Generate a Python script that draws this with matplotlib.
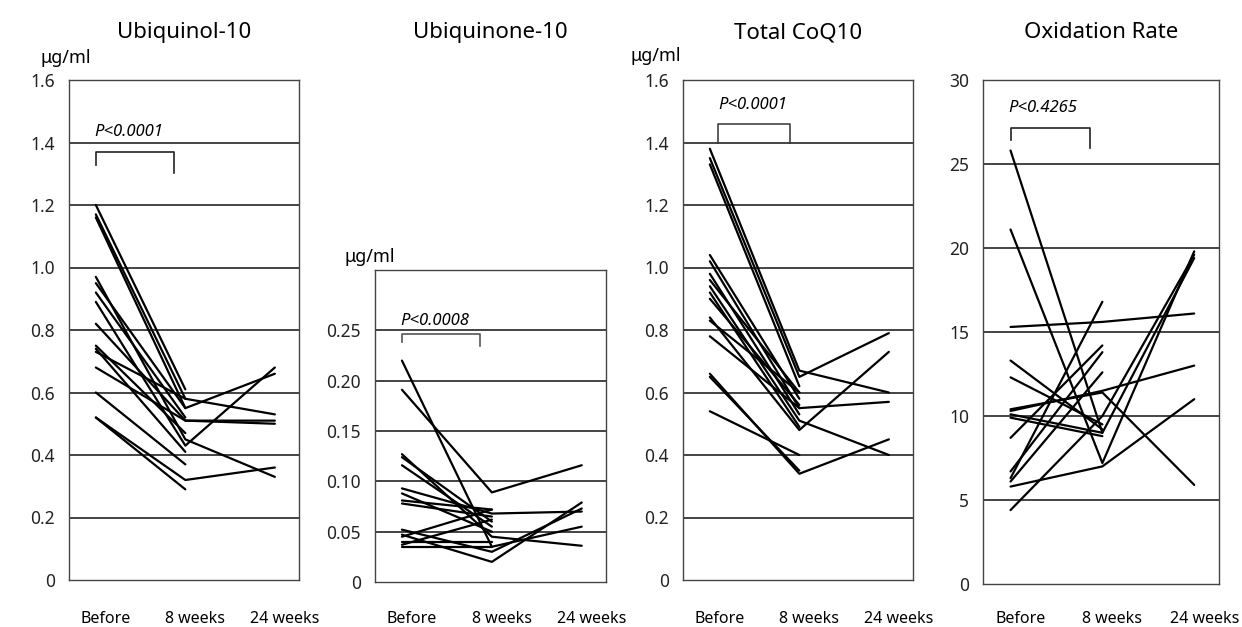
import matplotlib.pyplot as plt
import matplotlib.transforms as mtransforms
import numpy as np

plt.rcParams["font.family"] = ["Noto Sans", "DejaVu Sans"]

TIME_LABELS = ["Before", "8 weeks", "24 weeks"]

# Ubiquinol-10 (ug/ml): before, 8 weeks, 24 weeks (nan = not measured)
nan = np.nan
ubiquinol_before = [1.20, 1.17, 1.16, 0.97, 0.95, 0.92, 0.89, 0.82, 0.75, 0.74, 0.73, 0.68, 0.60, 0.52, 0.52]
ubiquinol_8w = [0.61, 0.58, 0.55, 0.45, 0.55, 0.52, 0.43, 0.51, 0.47, 0.41, 0.58, 0.51, 0.37, 0.32, 0.29]
ubiquinol_24w = [nan, 0.53, nan, 0.33, 0.66, nan, 0.68, 0.50, nan, nan, nan, 0.51, nan, 0.36, nan]

# Ubiquinone-10 (ug/ml)
ubiquinone_before = [0.220, 0.191, 0.127, 0.124, 0.116, 0.093, 0.088, 0.081, 0.078, 0.052, 0.047, 0.045, 0.040, 0.037, 0.035]
ubiquinone_8w = [0.035, 0.089, 0.045, 0.060, 0.055, 0.068, 0.050, 0.072, 0.065, 0.030, 0.020, 0.072, 0.040, 0.062, 0.035]
ubiquinone_24w = [0.055, 0.116, 0.036, nan, nan, 0.070, nan, nan, nan, 0.073, 0.079, nan, nan, nan, nan]

# Total CoQ10 (ug/ml)
total_before = [1.38, 1.35, 1.33, 1.04, 1.02, 0.98, 0.96, 0.94, 0.92, 0.90, 0.84, 0.83, 0.78, 0.66, 0.65, 0.54]
total_8w = [0.67, 0.65, 0.62, 0.58, 0.55, 0.53, 0.60, 0.51, 0.49, 0.56, 0.48, 0.60, 0.55, 0.34, 0.35, 0.40]
total_24w = [0.60, 0.79, nan, nan, 0.57, nan, nan, 0.40, nan, nan, 0.73, nan, nan, 0.45, nan, nan]

# Oxidation rate (%)
oxid_before = [25.8, 21.1, 15.3, 13.3, 12.3, 10.4, 10.3, 10.1, 9.9, 8.7, 6.7, 6.3, 6.1, 5.8, 4.4]
oxid_8w = [9.0, 7.2, 15.6, 9.2, 9.5, 11.4, 11.5, 9.0, 8.8, 14.2, 13.8, 16.8, 12.6, 7.0, 10.0]
oxid_24w = [19.4, 19.8, 16.1, nan, nan, 5.9, 13.0, nan, nan, nan, nan, nan, nan, 11.0, 19.6]

PANELS = [
    dict(title="Ubiquinol-10", data=(ubiquinol_before, ubiquinol_8w, ubiquinol_24w),
         ticks=[0, 0.2, 0.4, 0.6, 0.8, 1.0, 1.2, 1.4, 1.6],
         ticklabels=["0", "0.2", "0.4", "0.6", "0.8", "1.0", "1.2", "1.4", "1.6"],
         ylim=(0, 1.6), unit=(40, 58), p="P<0.0001",
         rect=(69, 80, 299, 580)),
    dict(title="Ubiquinone-10", data=(ubiquinone_before, ubiquinone_8w, ubiquinone_24w),
         ticks=[0, 0.05, 0.10, 0.15, 0.20, 0.25],
         ticklabels=["0", "0.05", "0.10", "0.15", "0.20", "0.25"],
         ylim=(0, 0.31), unit=(345, 257), p="P<0.0008",
         rect=(375, 270, 606, 582)),
    dict(title="Total CoQ10", data=(total_before, total_8w, total_24w),
         ticks=[0, 0.2, 0.4, 0.6, 0.8, 1.0, 1.2, 1.4, 1.6],
         ticklabels=["0", "0.2", "0.4", "0.6", "0.8", "1.0", "1.2", "1.4", "1.6"],
         ylim=(0, 1.6), unit=(631, 56), p="P<0.0001",
         rect=(683, 80, 913, 580)),
    dict(title="Oxidation Rate", data=(oxid_before, oxid_8w, oxid_24w),
         ticks=[0, 5, 10, 15, 20, 25, 30],
         ticklabels=["0", "5", "10", "15", "20", "25", "30"],
         ylim=(0, 30), unit=None, p="P<0.4265",
         rect=(983, 80, 1219, 584)),
]

W, H = 1242, 627
fig = plt.figure(figsize=(W / 100, H / 100), dpi=100)
shift = mtransforms.ScaledTranslation(10 / 100, 0, fig.dpi_scale_trans)

for i, pan in enumerate(PANELS):
    x0, y0, x1, y1 = pan["rect"]
    ax = fig.add_axes([x0 / W, 1 - y1 / H, (x1 - x0) / W, (y1 - y0) / H])
    before, w8, w24 = [np.array(a, dtype=float) for a in pan["data"]]
    for b, m, e in zip(before, w8, w24):
        ax.plot([0, 1, 2], [b, m, e], color="black", lw=1.6, solid_capstyle="round")

    ymin, ymax = pan["ylim"]
    ax.set_ylim(ymin, ymax)
    ax.set_xlim(-0.3, 2.27)
    ax.set_yticks(pan["ticks"])
    ax.set_yticklabels(pan["ticklabels"], fontsize=12.5, color="#222222")
    ax.tick_params(axis="y", length=0, pad=10)
    for t in pan["ticks"][1:]:
        ax.axhline(t, color="#111111", lw=1.1, zorder=0)
    ax.set_xticks([0, 1, 2])
    ax.set_xticklabels(TIME_LABELS, fontsize=11.5)
    ax.tick_params(axis="x", length=0, pad=(611 - y1) * 0.72)
    for lab in ax.get_xticklabels():
        lab.set_transform(lab.get_transform() + shift)
    for s in ax.spines.values():
        s.set_color("#444444")
        s.set_linewidth(1.0)

    ax.set_title(pan["title"], fontsize=16, pad=(y0 - 30) * 0.72 - 6)

    if pan["unit"]:
        ux, uy = pan["unit"]
        fig.text(ux / W, 1 - uy / H, "\u03bcg/ml", fontsize=13, va="center", ha="left")

    # significance bracket
    span = ymax - ymin
    if i == 2:
        top = 1.46
        ax.plot([0.09, 0.09, 0.9, 0.9], [1.4, top, top, 1.4], color="#333333", lw=1.1)
        ax.text(0.1, 1.52, pan["p"], fontsize=12, style="italic", va="center")
    else:
        frac = {0: 0.855, 1: 0.795, 3: 0.905}[i]
        top = ymin + frac * span
        ax.plot([0, 0, 0.87, 0.87], [top - 0.025 * span, top, top, top - 0.04 * span],
                color="#555555" if i == 1 else "#222222", lw=1.2)
        ax.text(-0.02, top + 0.04 * span, pan["p"], fontsize=12, style="italic", va="center")

fig.savefig("out.png", dpi=100)
